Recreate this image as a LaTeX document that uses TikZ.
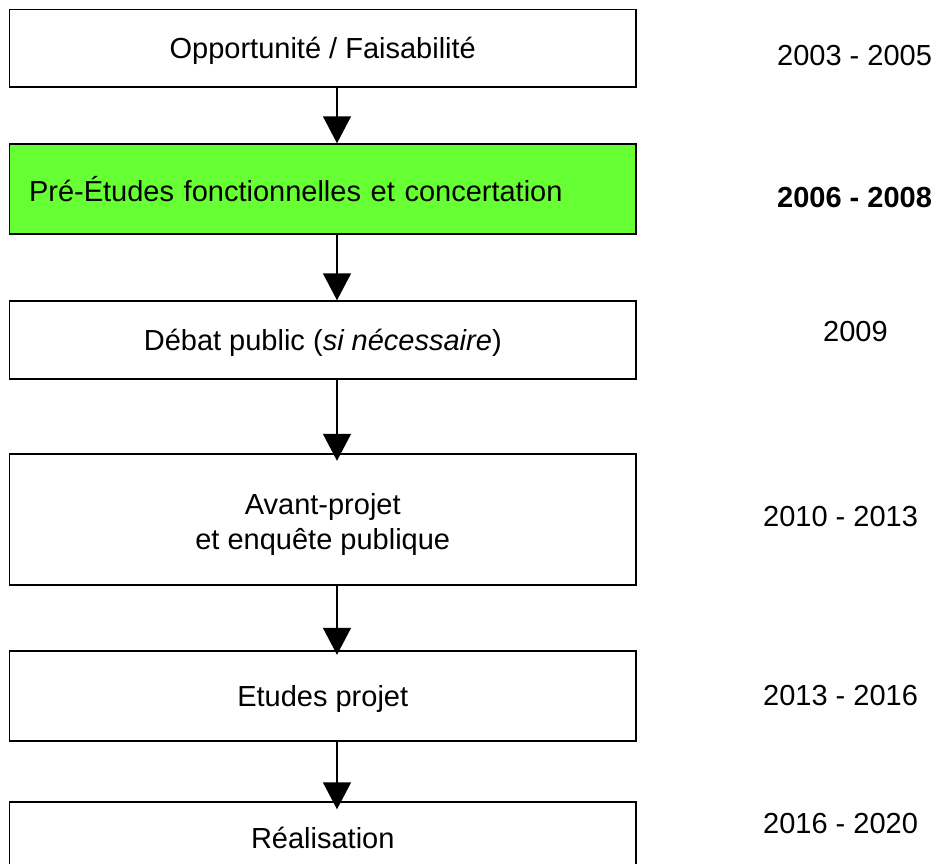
\documentclass[tikz,border=0pt]{standalone}
\usepackage{fontspec}
\setmainfont{Liberation Sans}
\usetikzlibrary{arrows.meta}
\definecolor{phasegreen}{RGB}{102,255,51}
\tikzset{
  phase/.style={draw=black, line width=1.4pt, fill=white, rectangle,
    minimum width=626.5pt, inner sep=0pt, align=center,
    text height=27pt, text depth=5.6pt},
  year/.style={anchor=west, inner sep=0pt},
  flow/.style={draw=black, line width=1.4pt,
    -{Triangle[width=28pt,length=27pt]}}
}
\begin{document}
\begin{tikzpicture}[x=1pt,y=-1pt, font=\fontsize{29}{35}\selectfont]
\useasboundingbox (0,0) rectangle (932,863);
\clip (0,0) rectangle (932,863);
\fill[white] (0,0) rectangle (932,863);

\node[phase, minimum height=77.5pt] (b1) at (322.75,48.25) {Opportunité / Faisabilité};
\node[phase, minimum height=90pt, fill=phasegreen, text width=587.5pt, align=left, text height=29pt, text depth=3.6pt] (b2) at (322.75,189) {Pré-Études fonctionnelles et concertation};
\node[phase, minimum height=78pt] (b3) at (322.75,340) {Débat public (\textit{si nécessaire})};
\node[phase, minimum height=131pt, text height=, text depth=] (b4) at (322.75,519.5) {\rule{0pt}{31pt}Avant-projet\\et enquête publique};
\node[phase, minimum height=90pt] (b5) at (322.75,696) {Etudes projet};
\node[phase, minimum height=71pt] (b6) at (322.75,837.5) {Réalisation};

\coordinate (ax) at (337,0);
\draw[flow] (b1.south -| ax) -- (b2.north -| ax);
\draw[flow] (b2.south -| ax) -- (b3.north -| ax);
\draw[flow, shorten >=-7.5pt] (b3.south -| ax) -- (b4.north -| ax);
\draw[flow, shorten >=-4.5pt] (b4.south -| ax) -- (b5.north -| ax);
\draw[flow, shorten >=-8pt] (b5.south -| ax) -- (b6.north -| ax);

\node[year] (y1) at (777,55.5) {2003 - 2005};
\node[year] (y2) at (777,198) {\bfseries 2006 - 2008};
\node[year] (y3) at (823,332) {2009};
\node[year] (y4) at (763,517) {2010 - 2013};
\node[year] (y5) at (763,696) {2013 - 2016};
\node[year] (y6) at (763,824) {2016 - 2020};
\end{tikzpicture}
\end{document}
